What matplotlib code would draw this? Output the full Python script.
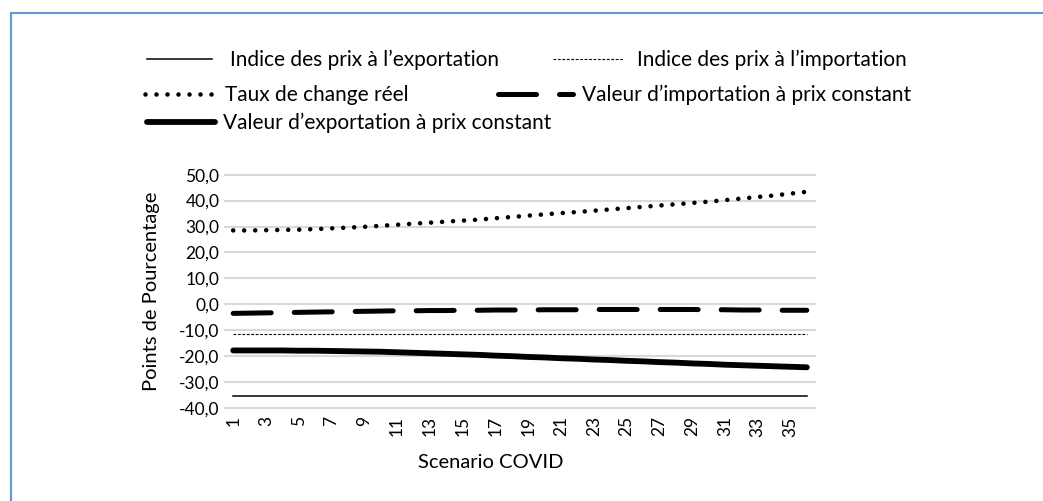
# coding: utf-8

import numpy as np
import matplotlib
matplotlib.use('Agg')
import matplotlib.pyplot as plt
from matplotlib.lines import Line2D

scenarios = list(range(1, 37))

prix_export = [-35.5] * 36
prix_import = [-11.5] * 36

taux_change = [28.5, 28.5, 28.6, 28.7, 28.8, 29.0, 29.3, 29.6, 29.9, 30.3, 30.7, 31.1,
               31.5, 31.9, 32.3, 32.7, 33.2, 33.7, 34.2, 34.7, 35.2, 35.6, 36.1, 36.6,
               37.1, 37.6, 38.1, 38.6, 39.1, 39.6, 40.2, 40.8, 41.4, 42.0, 42.7, 43.4]

valeur_import = [-3.5, -3.4, -3.3, -3.2, -3.1, -3.0, -2.9, -2.8, -2.7, -2.6, -2.5, -2.5,
                 -2.4, -2.4, -2.3, -2.3, -2.2, -2.2, -2.2, -2.1, -2.1, -2.1, -2.0, -2.0,
                 -2.0, -2.0, -2.0, -2.0, -2.0, -2.1, -2.1, -2.2, -2.2, -2.3, -2.3, -2.3]

valeur_export = [-17.8, -17.8, -17.8, -17.8, -17.9, -17.9, -18.0, -18.1, -18.2, -18.3, -18.5, -18.7,
                 -18.9, -19.1, -19.3, -19.5, -19.8, -20.0, -20.3, -20.5, -20.8, -21.0, -21.3, -21.5,
                 -21.8, -22.0, -22.3, -22.5, -22.8, -23.0, -23.3, -23.5, -23.7, -23.9, -24.1, -24.3]

y_ticks = [-40, -30, -20, -10, 0, 10, 20, 30, 40, 50]

labels = ["Indice des prix à l\u2019exportation",
          "Indice des prix à l\u2019importation",
          "Taux de change réel",
          "Valeur d\u2019importation à prix constant",
          "Valeur d\u2019exportation à prix constant"]

plt.rcParams['font.family'] = ['Lato', 'DejaVu Sans']

W, H = 1043, 501
fig = plt.figure(figsize=(W / 100.0, H / 100.0), dpi=100)

# cadre bleu autour de la figure
fig.add_artist(Line2D([11 / W, 11 / W], [0, 1 - 13 / H], color='#5B9BD5', lw=1.5))
fig.add_artist(Line2D([11 / W, 1], [1 - 13 / H, 1 - 13 / H], color='#5B9BD5', lw=1.5))

ax = fig.add_axes([225 / W, (H - 408) / H, 590 / W, (408 - 174.7) / H])

x = np.arange(len(scenarios))

styles = [
    dict(color='black', lw=1.1, ls='-'),
    dict(color='black', lw=0.8, ls=(0, (2.5, 1.5))),
    dict(color='black', lw=3.3, ls=(0, (0.001, 2.4)), dash_capstyle='round'),
    dict(color='black', lw=3.6, ls=(0, (7.6, 4.6)), dash_capstyle='round'),
    dict(color='black', lw=4.2, ls='-', solid_capstyle='round'),
]
series = [prix_export, prix_import, taux_change, valeur_import, valeur_export]

lines = []
for s, st in zip(series, styles):
    l, = ax.plot(x, s, **st)
    lines.append(l)

ax.set_xlim(-0.5, len(scenarios) - 0.5)
ax.set_ylim(-40, 50)
ax.set_yticks(y_ticks)
ax.set_yticklabels([('%.1f' % v).replace('.', ',') for v in y_ticks], fontsize=12.5)
ax.set_xticks(x[::2])
ax.set_xticklabels([str(s) for s in scenarios[::2]], rotation=90, fontsize=12.5)
ax.tick_params(axis='x', length=0, pad=6)
ax.tick_params(axis='y', length=0, pad=4)
ax.grid(axis='y', color='#D9D9D9', lw=1.5)
for gl in ax.get_ygridlines():
    gl.set_clip_on(False)
ax.set_axisbelow(True)
for sp in ax.spines.values():
    sp.set_visible(False)

ax.set_ylabel("Points de Pourcentage", fontsize=14.5, labelpad=14)
fig.text(491 / W, 1 - 462 / H, "Scenario COVID", fontsize=14.5, ha='center', va='center')

# legende façon Excel : une entrée à la fois
fs = 15
fs_px = fs * 100 / 72.0
entries = [(0, 147, 65, 18, 60), (1, 553, 70, 14, 60), (2, 145, 68, 12, 95),
           (3, 498, 75, 9, 95), (4, 147, 68, 8, 123)]
for i, xl, hl, pad, yc in entries:
    fig.legend([lines[i]], [labels[i]], loc='center left',
               bbox_to_anchor=(xl / W, 1 - yc / H), frameon=False,
               fontsize=fs, handlelength=hl / fs_px, handletextpad=pad / fs_px,
               borderpad=0, borderaxespad=0)

fig.savefig('out.png', dpi=100)
